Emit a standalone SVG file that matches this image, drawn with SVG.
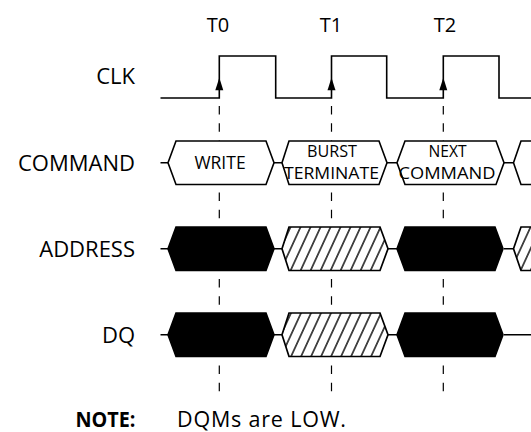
<svg xmlns="http://www.w3.org/2000/svg" width="531" height="432" viewBox="0 0 531 432">
<style>
.lbl{font-family:"Open Sans","Noto Sans","Liberation Sans",sans-serif;font-size:22px;fill:#000;text-anchor:end}
.tk{font-family:"Open Sans","Noto Sans","Liberation Sans",sans-serif;font-size:20px;fill:#000;text-anchor:middle}
.hx{font-family:"Open Sans","Noto Sans","Liberation Sans",sans-serif;font-size:17.5px;fill:#000;text-anchor:middle}
.hx2{font-family:"Open Sans","Noto Sans","Liberation Sans",sans-serif;font-size:16px;fill:#000;text-anchor:middle}
.wave{fill:none;stroke:#000;stroke-width:1.6}
.open{fill:#fff;stroke:#000;stroke-width:1.6;stroke-linejoin:miter}
.solid{fill:#000;stroke:#000;stroke-width:1.6}
.hatch{fill:url(#hatch);stroke:#000;stroke-width:1.7}
.dash{stroke:#000;stroke-width:1.2;stroke-dasharray:8.5 8.8;fill:none}
.note{font-family:"Open Sans","Noto Sans","Liberation Sans",sans-serif;font-size:21.5px;fill:#000}
</style>
<defs>
<pattern id="hatch" patternUnits="userSpaceOnUse" width="10" height="10" patternTransform="skewX(-24.7)">
<rect width="10" height="10" fill="#fff"/>
<line x1="5" y1="-1" x2="5" y2="11" stroke="#000" stroke-width="1.5"/>
</pattern>
<path id="arr" d="M0,0 L-4,12.5 L4,12.5 Z" fill="#000"/>
</defs>

<g id="connectors">
<line class="dash" x1="219.3" y1="106" x2="219.3" y2="392"/>
<line class="dash" x1="331.5" y1="106" x2="331.5" y2="392"/>
<line class="dash" x1="443.3" y1="106" x2="443.3" y2="392"/>
<path class="wave" d="M160.5,162.75 H168 M274,162.75 H282 M387,162.75 H397 M504,162.75 H513.5"/>
<path class="wave" d="M160.5,248.75 H168 M274,248.75 H282 M387,248.75 H397 M504,248.75 H513.5"/>
<path class="wave" d="M160.5,334.75 H168 M274,334.75 H282 M387,334.75 H397 M504,334.75 H531"/>
</g>

<g id="labels">
<text class="tk" x="218" y="32">T0</text>
<text class="tk" x="331" y="32">T1</text>
<text class="tk" x="445" y="32">T2</text>
<text class="lbl" x="135" y="84">CLK</text>
<text class="lbl" x="135" y="170.5">COMMAND</text>
<text class="lbl" x="135" y="256.5">ADDRESS</text>
<text class="lbl" x="135" y="342.5">DQ</text>
</g>

<g id="clk">
<path class="wave" d="M160.5,98 H219.3 V56 H275.7 V98 H331.5 V56 H386.7 V98 H443.3 V56 H499 V98 H531"/>
<use href="#arr" x="219.3" y="77.7"/>
<use href="#arr" x="331.5" y="77.7"/>
<use href="#arr" x="443.3" y="77.7"/>
</g>

<g id="cmd-write">
<path class="open" d="M168,162.75 L176,141 H266 L274,162.75 L266,184.5 H176 Z"/>
<text class="hx" x="220" y="168.5">WRITE</text>
</g>
<g id="cmd-burst">
<path class="open" d="M282,162.75 L289,141 H379 L387,162.75 L379,184.5 H289 Z"/>
<text class="hx2" x="332" y="156.5" textLength="50" lengthAdjust="spacingAndGlyphs">BURST</text>
<text class="hx2" x="331.5" y="178.5" textLength="95" lengthAdjust="spacingAndGlyphs">TERMINATE</text>
</g>
<g id="cmd-next">
<path class="open" d="M397,162.75 L405,141 H496 L504,162.75 L496,184.5 H405 Z"/>
<text class="hx2" x="447.5" y="156.5" textLength="38" lengthAdjust="spacingAndGlyphs">NEXT</text>
<text class="hx2" x="447" y="178.5" textLength="97" lengthAdjust="spacingAndGlyphs">COMMAND</text>
</g>
<g id="cmd-4">
<path class="open" d="M513.5,162.75 L521,141 H540 V184.5 H521 Z"/>
</g>

<g id="addr-1"><path class="solid" d="M168,248.75 L176,227 H266 L274,248.75 L266,270.5 H176 Z"/></g>
<g id="addr-2"><path class="hatch" d="M282,248.75 L289,227 H380 L388,248.75 L380,270.5 H289 Z"/></g>
<g id="addr-3"><path class="solid" d="M397,248.75 L405,227 H495 L503,248.75 L495,270.5 H405 Z"/></g>
<g id="addr-4"><path class="hatch" d="M513.5,248.75 L521,227 H540 V270.5 H521 Z"/></g>

<g id="dq-1"><path class="solid" d="M168,334.75 L176,313 H266 L274,334.75 L266,356.5 H176 Z"/></g>
<g id="dq-2"><path class="hatch" d="M282,334.75 L289,313 H380 L388,334.75 L380,356.5 H289 Z"/></g>
<g id="dq-3"><path class="solid" d="M397,334.75 L405,313 H495 L503,334.75 L495,356.5 H405 Z"/></g>

<g id="note">
<text class="note" x="75.5" y="426.5" font-weight="bold" textLength="60" lengthAdjust="spacingAndGlyphs">NOTE:</text>
<text class="note" x="177" y="426.5" textLength="169" lengthAdjust="spacing">DQMs are LOW.</text>
</g>
</svg>
